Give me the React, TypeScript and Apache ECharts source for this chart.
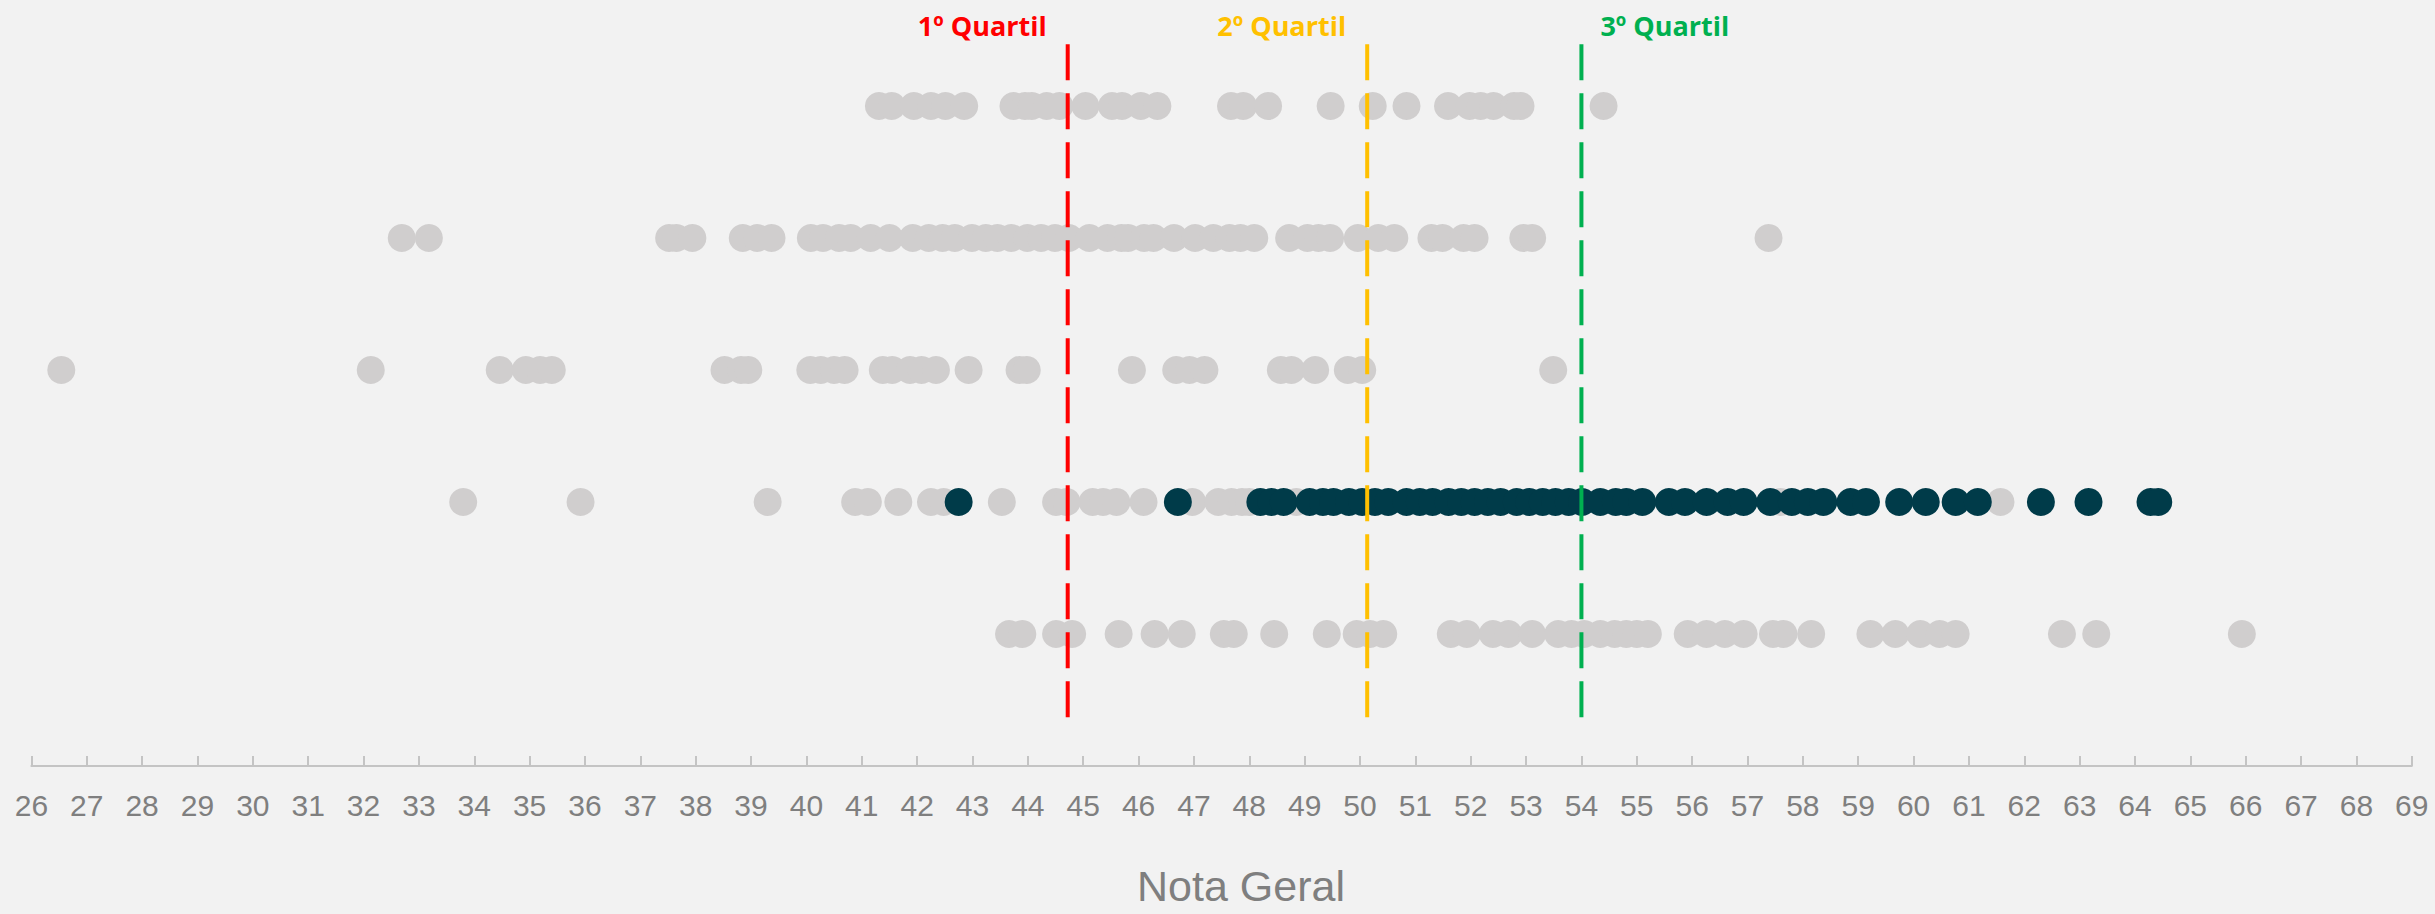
import React, { useEffect, useRef } from "react";
import * as echarts from "echarts";

// x-axis range / ticks
const xMin = 26;
const xMax = 69;

// Row levels (y) for the five strips, top to bottom
const rowLevels = [5, 4, 3, 2, 1];

// Grey dots per strip
const row5 = [41.31, 41.54, 41.94, 42.25, 42.51, 42.85, 43.74, 43.95, 44.07, 44.34, 44.57, 45.04, 45.52, 45.70, 46.04, 46.34, 47.67, 47.89, 48.34, 49.47, 50.23, 50.84, 51.59, 51.98, 52.18, 52.41, 52.78, 52.90, 54.40];
const row4 = [32.69, 33.18, 37.52, 37.65, 37.94, 38.85, 39.11, 39.37, 40.08, 40.30, 40.59, 40.80, 41.16, 41.50, 41.92, 42.21, 42.46, 42.68, 42.99, 43.24, 43.45, 43.70, 43.99, 44.24, 44.49, 44.74, 45.11, 45.44, 45.69, 45.81, 46.10, 46.27, 46.64, 47.02, 47.35, 47.64, 47.84, 48.09, 48.72, 49.05, 49.25, 49.46, 49.96, 50.33, 50.62, 51.29, 51.49, 51.87, 52.07, 52.95, 53.11, 57.38];
const row3 = [26.54, 32.13, 34.46, 34.93, 35.19, 35.40, 38.52, 38.82, 38.95, 40.07, 40.26, 40.50, 40.69, 41.38, 41.55, 41.87, 42.08, 42.34, 42.93, 43.85, 43.98, 45.88, 46.68, 46.92, 47.19, 48.57, 48.76, 49.19, 49.78, 50.04, 53.49];
const row2 = [33.80, 35.92, 39.30, 40.88, 41.11, 41.66, 42.25, 42.48, 43.53, 44.51, 44.70, 45.17, 45.36, 45.60, 46.09, 46.97, 47.44, 47.68, 47.87, 48.00, 48.85, 57.60, 61.57];
const row1 = [43.66, 43.90, 44.51, 44.80, 45.64, 46.29, 46.78, 47.54, 47.72, 48.45, 49.40, 49.94, 50.18, 50.42, 51.64, 51.93, 52.40, 52.68, 53.11, 53.58, 53.82, 54.05, 54.34, 54.60, 54.81, 55.00, 55.20, 55.92, 56.26, 56.59, 56.93, 57.46, 57.65, 58.15, 59.22, 59.67, 60.12, 60.47, 60.76, 62.68, 63.30, 65.93];

// Highlighted (dark) dots on strip 2
const highlight = [42.75, 46.71, 48.20, 48.40, 48.62, 49.09, 49.33, 49.52, 49.80, 50.04, 50.27, 50.51, 50.84, 51.08, 51.31, 51.60, 51.83, 52.07, 52.31, 52.54, 52.83, 53.06, 53.30, 53.53, 53.77, 54.01, 54.34, 54.62, 54.81, 55.10, 55.58, 55.87, 56.26, 56.64, 56.93, 57.41, 57.80, 58.09, 58.37, 58.86, 59.14, 59.74, 60.22, 60.76, 61.16, 62.30, 63.16, 64.28, 64.42];

// Quartiles
const quartileNames = ["1º Quartil", "2º Quartil", "3º Quartil"];
const quartileValues = [44.72, 50.13, 54.0];
const quartileColors = ["#FF0000", "#FFC000", "#00B050"];
const quartileSpan = [0.37, 5.485];

const greyRows = [row5, row4, row3, row2, row1];

export default function App() {
  const ref = useRef<HTMLDivElement>(null);

  useEffect(() => {
    if (!ref.current) return;
    const chart = echarts.init(ref.current, undefined, { renderer: "svg" });

    const greySeries = greyRows.map((row, i) => ({
      type: "scatter",
      name: "row" + rowLevels[i],
      symbol: "circle",
      symbolSize: 28,
      itemStyle: { color: "#D0CECE", opacity: 1 },
      data: row.map((v) => [v, rowLevels[i]]),
      z: 2,
    }));

    const darkSeries = {
      type: "scatter",
      name: "highlight",
      symbol: "circle",
      symbolSize: 28,
      itemStyle: { color: "#003B49", opacity: 1 },
      data: highlight.map((v) => [v, 2]),
      z: 3,
    };

    const quartileSeries = quartileValues.map((q, i) => ({
      type: "line",
      name: quartileNames[i],
      symbol: "circle",
      symbolSize: 0.1,
      showSymbol: true,
      itemStyle: { color: quartileColors[i] },
      lineStyle: { color: quartileColors[i], width: 4, type: [36, 13] },
      z: 5,
      data: [
        [q, quartileSpan[0]],
        {
          value: [q, quartileSpan[1]],
          label: {
            show: true,
            formatter: quartileNames[i],
            position: i === 2 ? [19, -16] : [-21, -16],
            align: i === 2 ? "left" : "right",
            verticalAlign: "middle",
            color: quartileColors[i],
            fontFamily: "Open Sans",
            fontWeight: "bold",
            fontSize: 27,
          },
        },
      ],
    }));

    const option = {
      animation: false,
      backgroundColor: "#F2F2F2",
      grid: { left: 31.4, right: 23.2, top: 26.8, bottom: 148 },
      xAxis: {
        type: "value",
        min: xMin,
        max: xMax,
        interval: 1,
        axisLine: { show: true, lineStyle: { color: "#C4C4C4", width: 2 } },
        axisTick: { show: true, inside: true, length: 10, lineStyle: { color: "#C4C4C4", width: 2 } },
        axisLabel: {
          color: "#7F7F7F",
          fontSize: 30,
          fontFamily: "Liberation Sans, Arial, sans-serif",
          margin: 24,
        },
        splitLine: { show: false },
      },
      yAxis: {
        type: "value",
        min: 0,
        max: 5.6,
        show: false,
        splitLine: { show: false },
      },
      graphic: [
        {
          type: "text",
          x: 1241,
          y: 886,
          style: {
            text: "Nota Geral",
            fill: "#7F7F7F",
            font: "43px 'Liberation Sans', Arial, sans-serif",
            lineHeight: 40,
            textAlign: "center",
            textVerticalAlign: "middle",
          },
        },
      ],
      series: [...greySeries, darkSeries, ...quartileSeries],
    };

    chart.setOption(option as any);
    return () => chart.dispose();
  }, []);

  return (
    <div
      ref={ref}
      style={{ position: "absolute", left: 0, top: 0, width: 2435, height: 914, background: "#F2F2F2" }}
    />
  );
}
